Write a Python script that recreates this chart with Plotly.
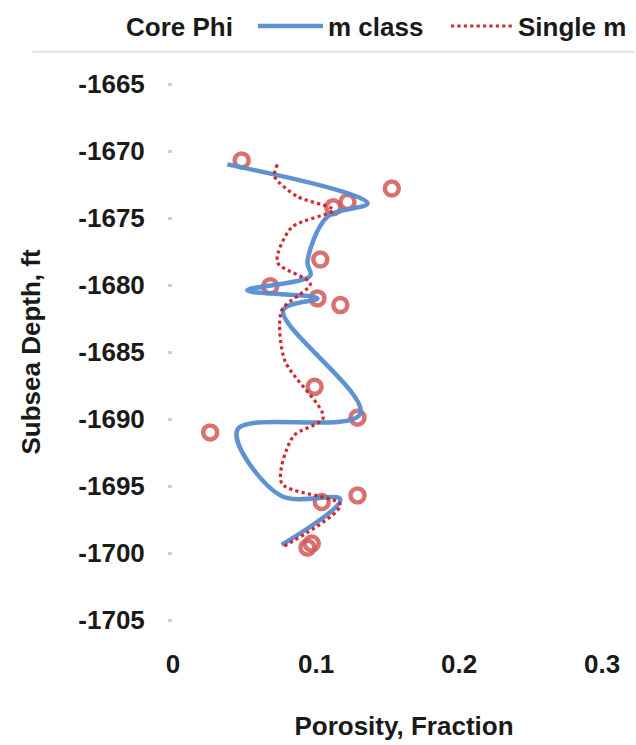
import plotly.graph_objects as go

# Core porosity measurements
core_phi = [0.048, 0.153, 0.122, 0.112, 0.103, 0.068, 0.101, 0.117, 0.099, 0.129, 0.026, 0.129, 0.104, 0.094, 0.097]
core_depth = [-1670.7, -1672.8, -1673.8, -1674.2, -1678.1, -1680.1, -1681.0, -1681.5, -1687.6, -1689.9, -1691.0, -1695.7, -1696.2, -1699.6, -1699.3]

# m class model porosity
mclass_phi = [0.038, 0.136, 0.108, 0.094, 0.096, 0.052, 0.101, 0.077, 0.131, 0.045, 0.075, 0.117, 0.076]
mclass_depth = [-1671.0, -1673.9, -1674.9, -1678.3, -1679.3, -1680.4, -1681.0, -1681.9, -1689.6, -1690.8, -1695.7, -1696.0, -1699.4]

# Single m model porosity
single_phi = [0.073, 0.071, 0.087, 0.112, 0.083, 0.073, 0.096, 0.076, 0.078, 0.105, 0.084, 0.076, 0.117, 0.076]
single_depth = [-1671.0, -1671.9, -1673.4, -1674.4, -1675.7, -1678.3, -1679.9, -1681.9, -1685.6, -1689.9, -1691.3, -1694.8, -1696.4, -1699.6]

y_ticks = [-1665, -1670, -1675, -1680, -1685, -1690, -1695, -1700, -1705]
y_ticklabels = ["-1665", "-1670", "-1675", "-1680", "-1685", "-1690", "-1695", "-1700", "-1705"]
x_ticks = [0, 0.1, 0.2, 0.3]
x_ticklabels = ["0", "0.1", "0.2", "0.3"]

FONT = "Arial, Liberation Sans, sans-serif"
TXT = "#1a1a1a"
FS = 26

fig = go.Figure()
fig.add_trace(go.Scatter(
    x=core_phi, y=core_depth, mode="markers", name="Core Phi", showlegend=False,
    marker=dict(symbol="circle-open", size=14,
                line=dict(width=4.5, color="rgba(212,88,88,0.85)"),
                color="rgba(212,88,88,0.85)"),
))
# legend entry for core data (the reference legend shows no symbol for it)
fig.add_trace(go.Scatter(
    x=[None], y=[None], mode="markers", name="Core Phi", legend="legend",
    marker=dict(size=1, color="rgba(0,0,0,0)"),
))
fig.add_trace(go.Scatter(
    x=mclass_phi, y=mclass_depth, mode="lines", name="m class", legend="legend2",
    line=dict(color="rgba(86,140,208,0.95)", width=4.5, shape="spline", smoothing=1.0),
))
fig.add_trace(go.Scatter(
    x=single_phi, y=single_depth, mode="lines", name="Single m", legend="legend3",
    line=dict(color="rgba(208,30,34,0.95)", width=3.2, dash="dot", shape="spline", smoothing=0.8),
))

fig.add_shape(type="line", xref="paper", yref="paper",
              x0=-0.305, x1=1.0, y0=1.06, y1=1.06,
              line=dict(color="#e4e4e4", width=2))

legend_common = dict(orientation="h", xref="container", yref="container",
                     y=0.965, xanchor="left", yanchor="middle",
                     font=dict(family=FONT, size=FS, color=TXT, weight="bold"),
                     bgcolor="rgba(0,0,0,0)")

fig.update_layout(
    width=636, height=745,
    margin=dict(l=173, r=1, t=84, b=125, autoexpand=False),
    paper_bgcolor="white", plot_bgcolor="white",
    font=dict(family=FONT, size=FS, color=TXT, weight="bold"),
    showlegend=True,
    legend=dict(x=86 / 636, itemwidth=30, **legend_common),
    legend2=dict(x=253 / 636, itemwidth=65, **legend_common),
    legend3=dict(x=446 / 636, itemwidth=62, **legend_common),
    xaxis=dict(range=[0, 0.323], tickvals=x_ticks, ticktext=x_ticklabels,
               showgrid=False, zeroline=False, showline=False, ticks="",
               ticklabelstandoff=26,
               title=dict(text="Porosity, Fraction", standoff=38,
                          font=dict(family=FONT, size=FS, color=TXT, weight="bold"))),
    yaxis=dict(range=[-1705, -1665], tickvals=y_ticks, ticktext=y_ticklabels,
               showgrid=False, zeroline=False, showline=False,
               ticks="outside", ticklen=4, tickwidth=3, tickcolor="#cfcfcf",
               ticklabelstandoff=18,
               title=dict(text="Subsea Depth, ft", standoff=30,
                          font=dict(family=FONT, size=FS, color=TXT, weight="bold"))),
)

fig.write_html("out.html", config={"displayModeBar": False},
               post_script="document.body.style.margin='0px';")
